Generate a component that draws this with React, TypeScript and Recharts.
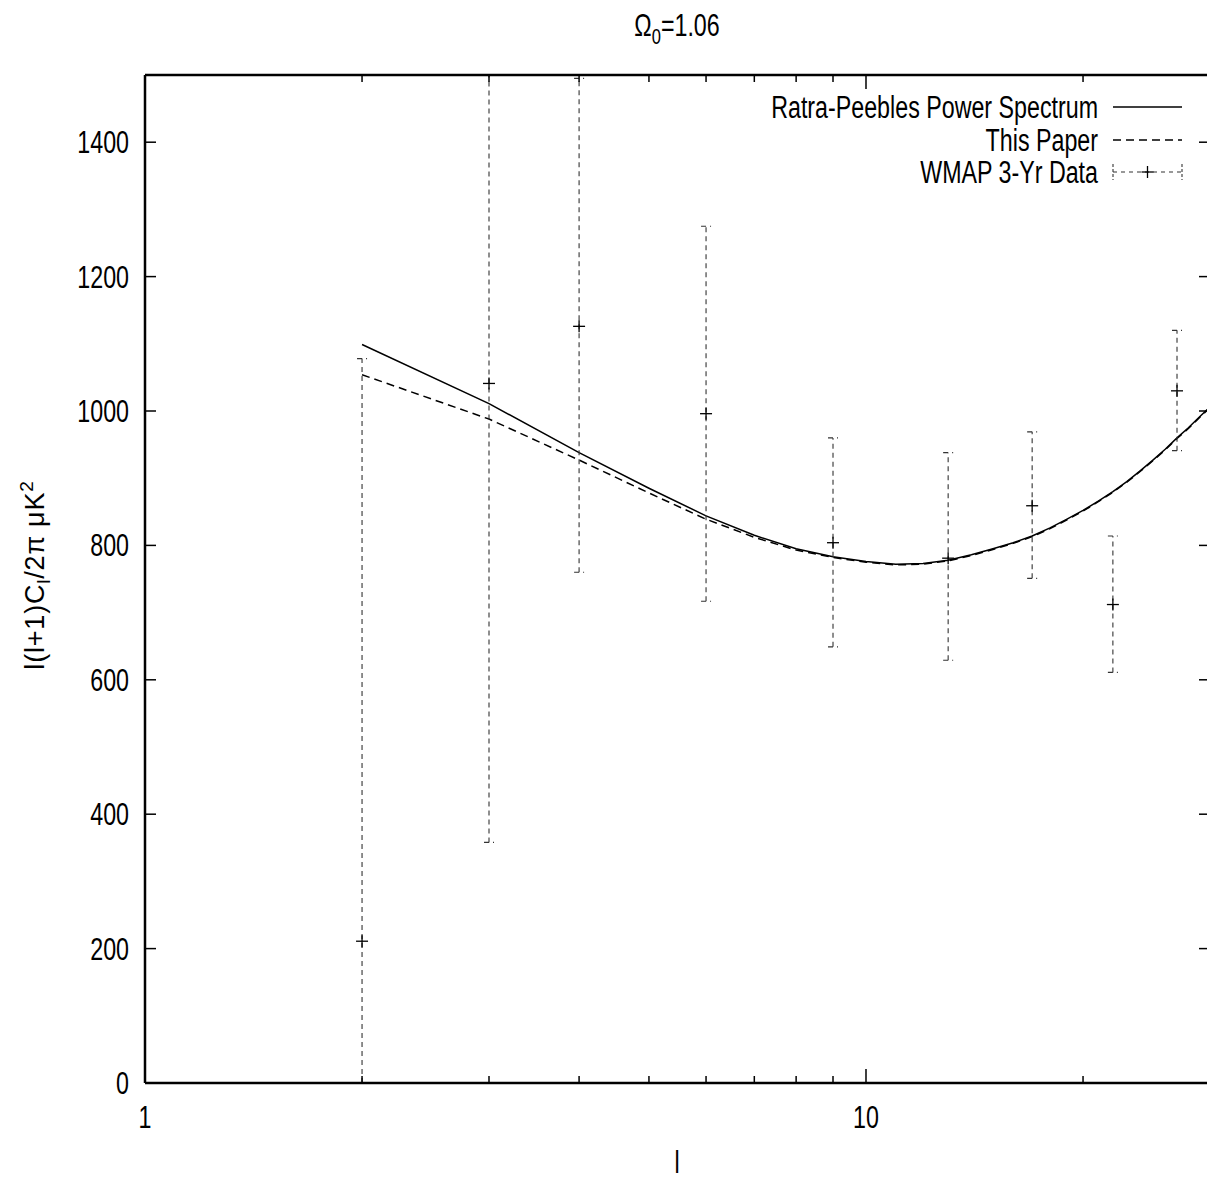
import React from "react";
import {
  ComposedChart,
  Line,
  Scatter,
  ErrorBar,
  XAxis,
  YAxis,
  Legend,
} from "recharts";

// multipole l and the two model spectra (µK²)
const ELL = [
  2, 3, 4, 5, 6, 7, 8, 9, 10, 11, 12, 13, 14, 15, 16, 17, 18, 19, 20, 21, 22,
  23, 24, 25, 26, 27, 28, 29, 30,
];
const RATRA_PEEBLES = [
  1099, 1011, 938, 885, 844, 815, 795, 783, 776, 772, 773, 778, 786, 795, 804,
  814, 826, 839, 852, 866, 880, 895, 911, 927, 943, 960, 975, 991, 1006,
];
const THIS_PAPER = [
  1054, 988, 927, 878, 839, 812, 793, 782, 775, 771, 772, 777, 785, 794, 803,
  813, 825, 838, 851, 865, 879, 894, 910, 926, 942, 959, 974, 990, 1005,
];

// WMAP 3-yr points with their error ranges
const WMAP_ELL = [2, 3, 4, 6, 9, 13, 17, 22, 27];
const WMAP_VALUE = [211, 1041, 1126, 996, 804, 781, 859, 712, 1030];
const WMAP_LOW = [0, 358, 760, 717, 649, 629, 751, 611, 941];
const WMAP_HIGH = [1078, 1720, 1495, 1275, 960, 938, 969, 814, 1120];

const SERIES_NAMES = [
  "Ratra-Peebles Power Spectrum",
  "This Paper",
  "WMAP 3-Yr Data",
];

const X_TICKS = [1, 2, 3, 4, 5, 6, 7, 8, 9, 10, 20, 30];
const X_LABELED = [1, 10];
const Y_TICKS = [0, 200, 400, 600, 800, 1000, 1200, 1400];

const W = 1215;
const H = 1179;
const LEFT = 145;
const TOP = 75;
const BOTTOM = 1083;
const RIGHT = 1210;

// gnuplot's postscript Helvetica comes out narrow: squeeze Liberation Sans
const FONT = "'Liberation Sans', Arial, sans-serif";
const FONT_SIZE = 31;
const SQUEEZE = 0.75;
const ERR_COLOR = "#333";

const curveData = ELL.map((l, i) => ({
  l,
  rp: RATRA_PEEBLES[i],
  paper: THIS_PAPER[i],
}));

const wmapData = WMAP_ELL.map((l, i) => ({
  l,
  v: WMAP_VALUE[i],
  err: [WMAP_VALUE[i] - WMAP_LOW[i], WMAP_HIGH[i] - WMAP_VALUE[i]],
}));

function NarrowText({
  x,
  y,
  anchor = "start",
  size = FONT_SIZE,
  children,
}: {
  x: number;
  y: number;
  anchor?: "start" | "middle" | "end";
  size?: number;
  children: React.ReactNode;
}) {
  return (
    <text
      transform={`translate(${x},${y}) scale(${SQUEEZE},1)`}
      textAnchor={anchor}
      fontFamily={FONT}
      fontSize={size}
      fill="#000"
    >
      {children}
    </text>
  );
}

function Cross(props: any) {
  const { cx, cy } = props;
  if (cx == null || cy == null) return null;
  return (
    <g stroke="#000" strokeWidth={1.3}>
      <line x1={cx - 6} y1={cy} x2={cx + 6} y2={cy} />
      <line x1={cx} y1={cy - 6} x2={cx} y2={cy + 6} />
    </g>
  );
}

function BottomTick(props: any) {
  const { x, payload } = props;
  const major = X_LABELED.includes(payload.value);
  return (
    <g>
      <line
        x1={x}
        x2={x}
        y1={BOTTOM}
        y2={BOTTOM - (major ? 14 : 7)}
        stroke="#000"
        strokeWidth={1.5}
      />
      {major && (
        <NarrowText x={x} y={BOTTOM + 45} anchor="middle">
          {payload.value}
        </NarrowText>
      )}
    </g>
  );
}

function TopTick(props: any) {
  const { x, payload } = props;
  const major = X_LABELED.includes(payload.value);
  return (
    <line
      x1={x}
      x2={x}
      y1={TOP}
      y2={TOP + (major ? 14 : 7)}
      stroke="#000"
      strokeWidth={1.5}
    />
  );
}

function LeftTick(props: any) {
  const { y, payload } = props;
  return (
    <g>
      <line
        x1={LEFT}
        x2={LEFT + 11}
        y1={y}
        y2={y}
        stroke="#000"
        strokeWidth={1.5}
      />
      <NarrowText x={LEFT - 16} y={y + 11} anchor="end">
        {payload.value}
      </NarrowText>
    </g>
  );
}

function RightTick(props: any) {
  const { y } = props;
  return (
    <line
      x1={RIGHT}
      x2={RIGHT - 11}
      y1={y}
      y2={y}
      stroke="#000"
      strokeWidth={1.5}
    />
  );
}

function LegendBox() {
  const rows = [107, 140, 172];
  const x0 = 1113;
  const x1 = 1182;
  const mid = (x0 + x1) / 2;
  return (
    <svg
      width={W}
      height={220}
      style={{ position: "absolute", left: 0, top: 0, overflow: "visible" }}
    >
      {SERIES_NAMES.map((name, i) => (
        <NarrowText key={name} x={1098} y={rows[i] + 11} anchor="end">
          {name}
        </NarrowText>
      ))}
      <line x1={x0} x2={x1} y1={rows[0]} y2={rows[0]} stroke="#000" strokeWidth={1.5} />
      <line
        x1={x0}
        x2={x1}
        y1={rows[1]}
        y2={rows[1]}
        stroke="#000"
        strokeWidth={1.5}
        strokeDasharray="8 5"
      />
      <g stroke={ERR_COLOR} strokeWidth={1.1}>
        <line x1={x0} x2={x1} y1={rows[2]} y2={rows[2]} strokeDasharray="4 4" />
        <line x1={x0} x2={x0} y1={rows[2] - 8} y2={rows[2] + 8} strokeDasharray="3 2" />
        <line x1={x1} x2={x1} y1={rows[2] - 8} y2={rows[2] + 8} strokeDasharray="3 2" />
      </g>
      <Cross cx={mid} cy={rows[2]} />
    </svg>
  );
}

export default function App() {
  return (
    <div
      style={{
        position: "fixed",
        left: 0,
        top: 0,
        width: 1207,
        height: H,
        overflow: "hidden",
        background: "#fff",
      }}
    >
      {/* error bars are not clipped by recharts, clip them to the frame */}
      <style>{`.recharts-errorBars, .recharts-errorBar { clip-path: url(#plot-clip); }`}</style>
      <svg width={0} height={0} style={{ position: "absolute" }}>
        <defs>
          <clipPath id="plot-clip" clipPathUnits="userSpaceOnUse">
            <rect x={LEFT} y={TOP} width={RIGHT - LEFT} height={BOTTOM - TOP} />
          </clipPath>
        </defs>
      </svg>
      <ComposedChart
        width={W}
        height={H}
        data={curveData}
        margin={{ top: 0, right: 0, bottom: 0, left: 0 }}
      >
        <XAxis
          xAxisId="b"
          dataKey="l"
          type="number"
          scale="log"
          domain={[1, 30]}
          allowDataOverflow
          ticks={X_TICKS}
          interval={0}
          height={H - BOTTOM}
          axisLine={{ stroke: "#000", strokeWidth: 2.5 }}
          tickLine={false}
          tick={BottomTick}
          label={() => (
            <NarrowText x={677} y={1173} anchor="middle">
              l
            </NarrowText>
          )}
        />
        <XAxis
          xAxisId="t"
          orientation="top"
          dataKey="l"
          type="number"
          scale="log"
          domain={[1, 30]}
          allowDataOverflow
          ticks={X_TICKS}
          interval={0}
          height={TOP}
          axisLine={{ stroke: "#000", strokeWidth: 2.5 }}
          tickLine={false}
          tick={TopTick}
          label={() => (
            <NarrowText x={677} y={36} anchor="middle">
              Ω
              <tspan dy={8} fontSize={22}>
                0
              </tspan>
              <tspan dy={-8}>=1.06</tspan>
            </NarrowText>
          )}
        />
        <YAxis
          yAxisId="l"
          type="number"
          domain={[0, 1500]}
          allowDataOverflow
          ticks={Y_TICKS}
          interval={0}
          width={LEFT}
          axisLine={{ stroke: "#000", strokeWidth: 2.5 }}
          tickLine={false}
          tick={LeftTick}
          label={() => (
            <text
              transform="translate(44,575) rotate(-90)"
              textAnchor="middle"
              fontFamily={FONT}
              fontSize={27}
              letterSpacing={0.8}
              fill="#000"
            >
              l(l+1)C
              <tspan dy={6} fontSize={19}>
                l
              </tspan>
              <tspan dy={-6}>/2π μK</tspan>
              <tspan dy={-11} fontSize={19}>
                2
              </tspan>
            </text>
          )}
        />
        <YAxis
          yAxisId="r"
          orientation="right"
          type="number"
          domain={[0, 1500]}
          allowDataOverflow
          ticks={Y_TICKS}
          interval={0}
          width={W - RIGHT}
          axisLine={{ stroke: "#000", strokeWidth: 2.5 }}
          tickLine={false}
          tick={RightTick}
        />
        <Legend
          content={LegendBox}
          wrapperStyle={{ left: 0, top: 0, width: 0, height: 0 }}
        />
        <Line
          xAxisId="b"
          yAxisId="l"
          name={SERIES_NAMES[0]}
          dataKey="rp"
          type="linear"
          stroke="#000"
          strokeWidth={1.5}
          dot={false}
          isAnimationActive={false}
        />
        <Line
          xAxisId="b"
          yAxisId="l"
          name={SERIES_NAMES[1]}
          dataKey="paper"
          type="linear"
          stroke="#000"
          strokeWidth={1.5}
          strokeDasharray="8 5"
          dot={false}
          isAnimationActive={false}
        />
        <Scatter
          xAxisId="b"
          yAxisId="l"
          name={SERIES_NAMES[2]}
          data={wmapData}
          dataKey="v"
          shape={Cross}
          isAnimationActive={false}
        >
          <ErrorBar
            dataKey="err"
            direction="y"
            width={5}
            stroke={ERR_COLOR}
            strokeWidth={1.1}
            strokeDasharray="5 4"
            isAnimationActive={false}
          />
        </Scatter>
      </ComposedChart>
    </div>
  );
}
